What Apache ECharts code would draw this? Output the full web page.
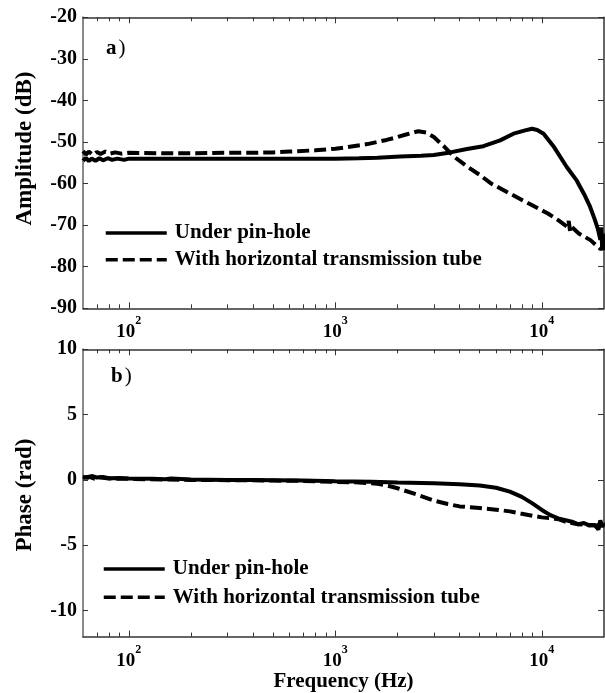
<!DOCTYPE html>
<html><head><meta charset="utf-8">
<script src="https://cdn.jsdelivr.net/npm/echarts@6/dist/echarts.min.js"></script>
<style>html,body{margin:0;padding:0;background:#fff}#c{width:605px;height:693px}</style>
</head><body><div id="c"></div>
<script>
// ---------- data ----------
const seriesNames = ['Under pin-hole', 'With horizontal transmission tube'];
const freqRange = [60, 20000];
const decadeTicks = [100, 1000, 10000];
const minorTickFreqs = [70, 80, 90, 200, 300, 400, 500, 600, 700, 800, 900, 2000, 3000, 4000, 5000, 6000, 7000, 8000, 9000];
const ampRange = [-90, -20];
const ampTicks = [-90, -80, -70, -60, -50, -40, -30, -20];
const phaseRange = [-12, 10];
const phaseTicks = [-10, -5, 0, 5, 10];

const ampUnderPinhole = [
  [60,-54.5],[62,-53.8],[64,-54.6],[66,-54.0],[69,-54.5],[72,-53.9],[75,-54.4],[79,-53.9],[83,-54.3],[88,-54.0],[95,-54.3],[100,-54.0],
  [150,-54.0],[200,-54.0],[300,-54.0],[500,-54.0],[700,-54.0],[1000,-54.0],[1300,-53.9],[1600,-53.8],[2060,-53.5],[2600,-53.3],
  [3000,-53.1],[3600,-52.5],[4340,-51.7],[5210,-51.0],[6280,-49.6],[7290,-48.0],[8300,-47.2],[8960,-46.8],[9500,-47.1],[10200,-48.0],
  [11380,-51.0],[13200,-56.0],[14770,-59.3],[16000,-62.5],[17100,-65.5],[18000,-68.5],[18700,-71.0],[19200,-73.5],[19400,-70.5],
  [19600,-75.5],[19750,-72.0],[19900,-76.0],[20000,-74.0]
];
const ampTube = [
  [60,-52.2],[62,-53.0],[64,-52.3],[67,-53.1],[70,-52.4],[73,-52.9],[77,-52.3],[81,-52.8],[86,-52.5],[92,-52.8],[100,-52.6],
  [150,-52.7],[200,-52.7],[300,-52.6],[400,-52.6],[500,-52.5],[600,-52.3],[800,-52.0],[1000,-51.6],[1150,-51.2],[1430,-50.5],
  [1770,-49.5],[2000,-48.8],[2200,-48.2],[2520,-47.4],[2750,-47.7],[3000,-48.8],[3350,-51.0],[3750,-53.5],[4350,-55.9],[5000,-57.9],
  [5650,-59.9],[7000,-62.4],[8650,-64.8],[10700,-67.2],[12000,-68.8],[13300,-70.4],[13500,-69.0],[13700,-71.5],[14000,-70.5],
  [15100,-72.0],[17200,-73.6],[18700,-75.2],[19300,-75.8],[20000,-75.0]
];
const phaseUnderPinhole = [
  [60,0.25],[63,0.15],[66,0.3],[70,0.18],[75,0.22],[80,0.12],[90,0.15],[100,0.1],[130,0.08],[150,0.05],[160,0.1],[200,0.03],
  [300,0.0],[400,0.0],[500,-0.02],[700,-0.05],[1000,-0.1],[1500,-0.15],[2000,-0.2],[3000,-0.25],[4000,-0.33],[5000,-0.43],
  [6000,-0.6],[7000,-0.9],[8000,-1.3],[9000,-1.8],[10000,-2.3],[11000,-2.7],[12000,-2.95],[14000,-3.2],[15000,-3.4],[16000,-3.3],
  [17000,-3.5],[18000,-3.45],[18800,-3.8],[19200,-3.1],[19600,-3.6],[20000,-3.3]
];
const phaseTube = [
  [60,0.15],[64,0.25],[68,0.1],[72,0.2],[80,0.1],[100,0.08],[150,0.03],[200,0.0],[300,-0.02],[500,-0.05],[700,-0.08],[1000,-0.15],
  [1300,-0.2],[1600,-0.3],[1800,-0.45],[2000,-0.64],[2500,-1.14],[3000,-1.58],[3500,-1.85],[4000,-2.03],[5000,-2.16],[6000,-2.28],
  [7000,-2.41],[8000,-2.6],[10000,-2.87],[12000,-3.0],[13000,-3.2],[15000,-3.4],[17000,-3.45],[18500,-3.5],[19300,-3.3],[20000,-3.4]
];

// ---------- chart ----------
const FONT = 'Liberation Serif';
const txt = (size, weight) => ({ fontFamily: FONT, fontWeight: weight || 'bold', fontSize: size, color: '#000' });

function xAxes(gridIndex, withLabels) {
  const base = { gridIndex, type: 'log', logBase: 10, min: freqRange[0], max: freqRange[1], splitLine: { show: false } };
  const major = (pos, labels) => Object.assign({}, base, {
    position: pos,
    axisLine: { show: true, onZero: false, lineStyle: { color: '#333', width: 1.5 } },
    axisTick: { show: true, inside: true, length: 6, customValues: decadeTicks, lineStyle: { color: '#333', width: 1 } },
    axisLabel: labels ? {
      show: true, margin: 7, customValues: decadeTicks,
      formatter: v => '{b|10}{s|' + Math.round(Math.log10(v)) + '}',
      rich: { b: Object.assign(txt(19), { lineHeight: 34 }), s: Object.assign(txt(12), { lineHeight: 12, verticalAlign: 'top' }) }
    } : { show: false }
  });
  const minor = pos => Object.assign({}, base, {
    position: pos,
    axisLine: { show: false, onZero: false },
    axisTick: { show: true, inside: true, length: 4, customValues: minorTickFreqs, lineStyle: { color: '#333', width: 1 } },
    axisLabel: { show: false }
  });
  return [major('bottom', withLabels), minor('bottom'), major('top', false), minor('top')];
}

function yAxes(gridIndex, range, ticks) {
  const base = { gridIndex, type: 'value', min: range[0], max: range[1], splitLine: { show: false } };
  return [
    Object.assign({}, base, {
      position: 'left',
      axisLine: { show: true, onZero: false, lineStyle: { color: '#8a8a8a', width: 2 } },
      axisTick: { show: true, inside: true, length: 5, customValues: ticks, lineStyle: { color: '#333' } },
      axisLabel: Object.assign(txt(20), { margin: 6, customValues: ticks })
    }),
    Object.assign({}, base, {
      position: 'right',
      axisLine: { show: true, onZero: false, lineStyle: { color: '#333', width: 1.5 } },
      axisTick: { show: true, inside: true, length: 6, customValues: ticks, lineStyle: { color: '#333' } },
      axisLabel: { show: false }
    })
  ];
}

const xa = xAxes(0, true).concat(xAxes(1, true));
xa[4].name = 'Frequency (Hz)';
xa[4].nameLocation = 'middle';
xa[4].nameGap = 30;
xa[4].nameTextStyle = txt(21);

const ya = yAxes(0, ampRange, ampTicks).concat(yAxes(1, phaseRange, phaseTicks));

const lineSeries = (name, data, xi, yi, dashed) => ({
  type: 'line', name, data, xAxisIndex: xi, yAxisIndex: yi,
  symbol: 'none', showSymbol: false, smooth: false, silent: true,
  lineStyle: { color: '#000', width: 4, type: dashed ? [12, 5] : 'solid' },
  itemStyle: { color: '#000' }
});

const legendCfg = (left, top, gap) => ({
  data: seriesNames, orient: 'vertical', left, top, padding: 0, selectedMode: false,
  itemWidth: 61, itemHeight: 22, itemGap: gap,
  lineStyle: { width: 3.5 },
  itemStyle: { opacity: 0, borderWidth: 0 },
  textStyle: Object.assign(txt(21), { lineHeight: 22, padding: [0, 0, 0, 3] })
});

const chart = echarts.init(document.getElementById('c'), null, { renderer: 'canvas' });
chart.setOption({
  animation: false,
  backgroundColor: '#fff',
  grid: [
    { left: 83, right: 1, top: 17.3, height: 291 },
    { left: 83, right: 1, top: 349.3, height: 289.7 }
  ],
  xAxis: xa,
  yAxis: ya,
  legend: [legendCfg(104, 222, 4.7), legendCfg(102, 558, 6.3)],
  graphic: [
    { type: 'text', x: 25, y: 148.5, rotation: Math.PI / 2, style: { text: 'Amplitude (dB)', align: 'center', verticalAlign: 'middle', font: 'bold 23px "Liberation Serif"', fill: '#000' } },
    { type: 'text', x: 25, y: 495, rotation: Math.PI / 2, style: { text: 'Phase (rad)', align: 'center', verticalAlign: 'middle', font: 'bold 23px "Liberation Serif"', fill: '#000' } },
    { type: 'text', x: 106, y: 48.5, style: { text: '{a|a}{p|)}', verticalAlign: 'middle', rich: { a: txt(21), p: Object.assign(txt(21, 'normal'), { padding: [0, 0, 0, 2] }) } } },
    { type: 'text', x: 111, y: 376.5, style: { text: '{a|b}{p|)}', verticalAlign: 'middle', rich: { a: txt(21), p: Object.assign(txt(21, 'normal'), { padding: [0, 0, 0, 2] }) } } }
  ],
  series: [
    lineSeries(seriesNames[0], ampUnderPinhole, 0, 0, false),
    lineSeries(seriesNames[1], ampTube, 0, 0, true),
    lineSeries(seriesNames[0], phaseUnderPinhole, 4, 2, false),
    lineSeries(seriesNames[1], phaseTube, 4, 2, true)
  ]
});
</script></body></html>
